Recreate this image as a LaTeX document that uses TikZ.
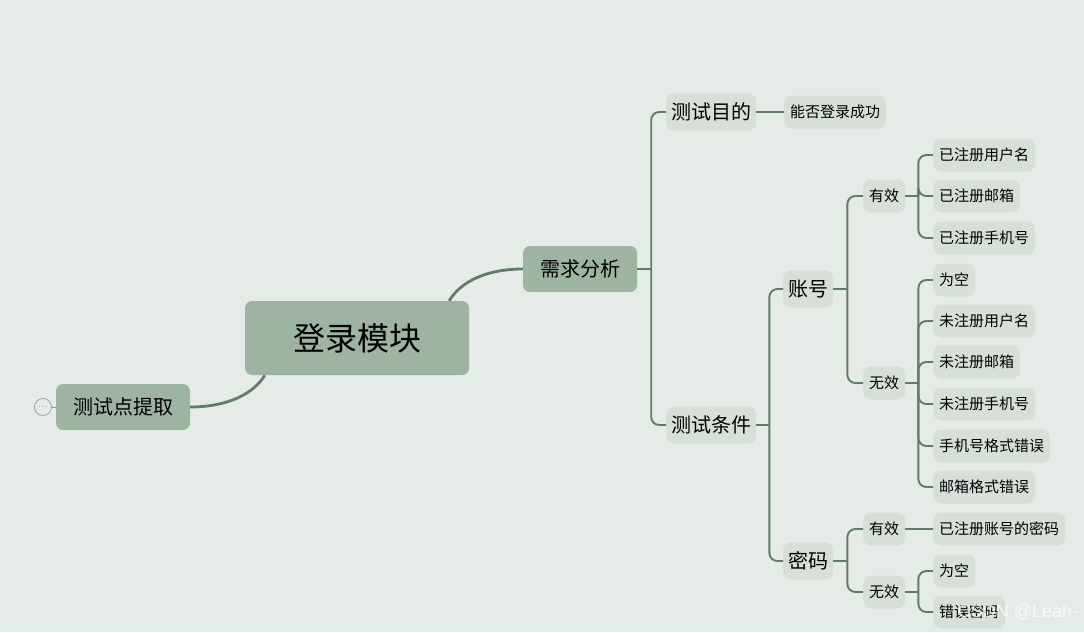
\documentclass[tikz,border=0pt]{standalone}
\usepackage{fontspec}
\usepackage{xcolor}
\setmainfont{Noto Sans CJK SC}
\newfontfamily\wmfont{Liberation Sans}
\usepackage{tikz}
\definecolor{bgcol}{HTML}{E5ECE7}
\definecolor{maincol}{HTML}{9DB4A3}
\definecolor{subcol}{HTML}{D7DFD9}
\definecolor{linecol}{HTML}{607C69}

\begin{document}
\begin{tikzpicture}[x=1pt,y=-1pt,
rootbox/.style={fill=maincol,rounded corners=7pt,inner xsep=48pt,minimum height=74pt,font=\fontsize{32}{32}\selectfont},
mainbox/.style={fill=maincol,rounded corners=7pt,inner xsep=17pt,minimum height=46pt,font=\fontsize{20}{20}\selectfont},
subbox/.style={fill=subcol,rounded corners=8pt,inner xsep=5pt,minimum height=37pt,anchor=west,font=\fontsize{20}{20}\selectfont},
leafbox/.style={fill=subcol,rounded corners=8pt,inner xsep=6pt,minimum height=33pt,anchor=west,font=\fontsize{15}{15}\selectfont},
curve/.style={draw=linecol,line width=2.8pt},
link/.style={draw=linecol,line width=1.9pt},
bus/.style={link,rounded corners=8pt}]
\useasboundingbox (0,0) rectangle (1084,632);
\fill[bgcol] (0,0) rectangle (1084,632);
% centre and left side
\node[rootbox] (root) at (357,338) {登录模块};
\node[mainbox] (tp) at (123,407) {测试点提取};
\node[circle,draw=gray!80,line width=0.7pt,minimum size=17pt,inner sep=0pt,font=\fontsize{6}{6}\selectfont] (fold) at (43,407) {$\cdots$};
\draw[draw=gray!80,line width=0.8pt](fold)--(tp);
\node[mainbox] (xq) at (580,269) {需求分析};
\draw[curve]([xshift=-20pt]root.north east)..controls +(12,-20) and +(-35,0)..(xq.west);
\draw[curve]([xshift=20pt]root.south west)..controls +(-12,20) and +(35,0)..(tp.east);
% level 2
\node[subbox] (md) at (666,112) {测试目的};
\node[subbox] (tj) at (666,425) {测试条件};
\node[leafbox] (cg) at (784,112) {能否登录成功};
\coordinate (b1) at ([xshift=14pt]xq.east);
\draw[link](xq.east)--(b1);
\foreach \c in {md,tj} \draw[bus](b1)|-(\c.west);
\draw[link](md)--(cg);
% account and password
\node[subbox] (zh) at (783,289) {账号};
\node[subbox] (mm) at (783,561) {密码};
\coordinate (b2) at ([xshift=13pt]tj.east);
\draw[link](tj.east)--(b2);
\foreach \c in {zh,mm} \draw[bus](b2)|-(\c.west);
\node[leafbox] (zhy) at (863,196) {有效};
\node[leafbox] (zhw) at (863,383) {无效};
\coordinate (b3) at ([xshift=14pt]zh.east);
\draw[link](zh.east)--(b3);
\foreach \c in {zhy,zhw} \draw[bus](b3)|-(\c.west);
\node[leafbox] (y1) at (933,155) {已注册用户名};
\node[leafbox] (y2) at (933,196) {已注册邮箱};
\node[leafbox] (y3) at (933,238) {已注册手机号};
\coordinate (b4) at ([xshift=13pt]zhy.east);
\draw[link](zhy.east)--(b4);
\foreach \c in {y1,y2,y3} \draw[bus](b4)|-(\c.west);
\node[leafbox] (w1) at (933,280) {为空};
\node[leafbox] (w2) at (933,321) {未注册用户名};
\node[leafbox] (w3) at (933,362) {未注册邮箱};
\node[leafbox] (w4) at (933,404) {未注册手机号};
\node[leafbox] (w5) at (933,446) {手机号格式错误};
\node[leafbox] (w6) at (933,487) {邮箱格式错误};
\coordinate (b5) at ([xshift=13pt]zhw.east);
\draw[link](zhw.east)--(b5);
\foreach \c in {w1,w2,w3,w4,w5,w6} \draw[bus](b5)|-(\c.west);
\node[leafbox] (mmy) at (863,529) {有效};
\node[leafbox] (mmw) at (863,592) {无效};
\coordinate (b6) at ([xshift=14pt]mm.east);
\draw[link](mm.east)--(b6);
\foreach \c in {mmy,mmw} \draw[bus](b6)|-(\c.west);
\node[leafbox] (p1) at (933,529) {已注册账号的密码};
\draw[link](mmy)--(p1);
\node[leafbox] (p2) at (933,571) {为空};
\node[leafbox] (p3) at (933,612) {错误密码};
\coordinate (b7) at ([xshift=13pt]mmw.east);
\draw[link](mmw.east)--(b7);
\foreach \c in {p2,p3} \draw[bus](b7)|-(\c.west);
\node[text=white,opacity=0.75,font=\wmfont\fontsize{18}{18}\selectfont] (wm) at (1018,612) {CSDN @Leah-};
\end{tikzpicture}
\end{document}
